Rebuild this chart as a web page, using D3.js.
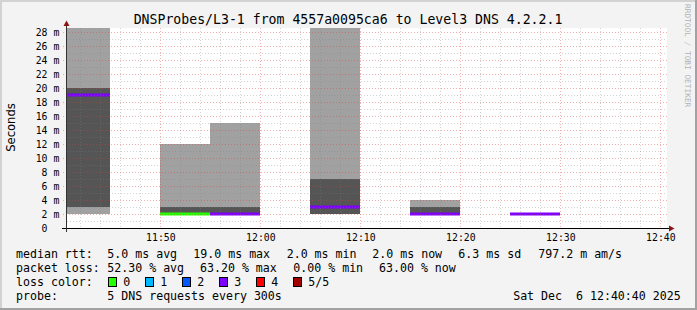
<!DOCTYPE html>
<html><head><meta charset="utf-8">
<script src="https://cdn.jsdelivr.net/npm/d3@7"></script>
<style>
html,body{margin:0;padding:0;background:#f3f3f3;}
svg{display:block;}
text{white-space:pre;}
</style></head>
<body>
<script>
// ---- data ----
const stepStart = ["11:40","11:50","11:55","12:05","12:15","12:25"];
const outerLo  = [2, 2, 2, 2, 2, 2];
const innerLo  = [3, 2, 2, 2, 2, 2];
const innerHi  = [20, 3, 3, 7, 3, 2];
const outerHi  = [60, 12, 15, 60, 4, 2];
const median   = [19, 2, 2, 3, 2, 2];
const loss     = [3, 0, 3, 3, 3, 3];
const lossLabels = ["0","1","2","3","4","5/5"];
const lossColors = ["#26ff00","#00b8ff","#0059ff","#7e00ff","#ff0000","#a10000"];
const yTicks = [0,2,4,6,8,10,12,14,16,18,20,22,24,26,28];
const xTickLabels = ["11:50","12:00","12:10","12:20","12:30","12:40"];
const title = "DNSProbes/L3-1 from 4557a0095ca6 to Level3 DNS 4.2.2.1";
const legendRows = [
  [["median rtt:",16],["5.0 ms avg",107.3],["19.0 ms max",193.3],["2.0 ms min",286.7],["2.0 ms now",372.3],["6.3 ms sd",458.3],["797.2 m am/s",538.3]],
  [["packet loss:",16],["52.30 % avg",107.3],["63.20 % max",200],["0.00 % min",293.3],["63.00 % now",379]],
  [["loss color:",16]],
  [["probe:",16],["5 DNS requests every 300s",107.3]]
];
const dateText = "Sat Dec  6 12:40:40 2025";

// ---- layout ----
const W = 697, H = 310;
const svg = d3.select("body").append("svg").attr("width", W).attr("height", H);
const parse = s => { const [h,m] = s.split(":").map(Number); return new Date(2025,11,6,h,m,0); };
const t0 = new Date(2025,11,6,11,40,40), t1 = new Date(2025,11,6,12,40,40);
const x = d3.scaleTime().domain([t0,t1]).range([67,667]);
const y = d3.scaleLinear().domain([0, 200/7]).range([228, 28]);

// background and border
svg.append("rect").attr("width",W).attr("height",H).attr("fill","#f3f3f3");
svg.append("rect").attr("x",0).attr("y",0).attr("width",W).attr("height",2).attr("fill","#d2d2d2");
svg.append("rect").attr("x",0).attr("y",0).attr("width",2).attr("height",H).attr("fill","#d2d2d2");
svg.append("rect").attr("x",0).attr("y",H-2).attr("width",W).attr("height",2).attr("fill","#a2a2a2");
svg.append("rect").attr("x",W-2).attr("y",0).attr("width",2).attr("height",H).attr("fill","#a2a2a2");

// plot canvas
svg.append("rect").attr("x",67).attr("y",28).attr("width",600).attr("height",200).attr("fill","#ffffff");
svg.append("clipPath").attr("id","pc").append("rect").attr("x",67).attr("y",28).attr("width",600).attr("height",200);
const g = svg.append("g").attr("clip-path","url(#pc)");

const idx = d3.range(stepStart.length);
const bx = i => x(parse(stepStart[i]));
const bw = i => x(new Date(parse(stepStart[i]).getTime()+300000)) - bx(i);

g.selectAll("rect.outer").data(idx.filter(i=>outerHi[i]>outerLo[i])).join("rect")
  .attr("x", i=>Math.round(bx(i))).attr("width", i=>Math.round(bx(i)+bw(i))-Math.round(bx(i)))
  .attr("y", i=>y(outerHi[i])).attr("height", i=>y(outerLo[i])-y(outerHi[i]))
  .attr("fill","#a1a1a1");
g.selectAll("rect.inner").data(idx.filter(i=>innerHi[i]>innerLo[i])).join("rect")
  .attr("x", i=>Math.round(bx(i))).attr("width", i=>Math.round(bx(i)+bw(i))-Math.round(bx(i)))
  .attr("y", i=>y(innerHi[i])).attr("height", i=>y(innerLo[i])-y(innerHi[i]))
  .attr("fill","#555555");
g.selectAll("rect.med").data(idx).join("rect")
  .attr("x", i=>Math.round(bx(i))).attr("width", i=>Math.round(bx(i)+bw(i))-Math.round(bx(i)))
  .attr("y", i=>y(median[i])-1.5).attr("height",3)
  .attr("fill", i=>lossColors[loss[i]]);

// grid
const minorC = "rgba(130,130,130,0.35)", majorC = "rgba(220,60,60,0.4)";
const grid = svg.append("g");
const minorX = d3.timeMinute.every(2).range(t0, t1);
const majorX = d3.timeMinute.every(10).range(t0, new Date(t1.getTime()+1));
grid.selectAll("line.mx").data(minorX.filter(d=>d.getMinutes()%10!==0)).join("line")
  .attr("x1",d=>Math.round(x(d))+0.5).attr("x2",d=>Math.round(x(d))+0.5).attr("y1",28).attr("y2",228)
  .attr("stroke",minorC).attr("stroke-dasharray","1,2");
d3.range(1,29).filter(v=>v%2===1).forEach(v=>{
  grid.append("line").attr("x1",67).attr("x2",667).attr("y1",y(v)+0.5).attr("y2",y(v)+0.5)
    .attr("stroke",minorC).attr("stroke-dasharray","1,2");
});
grid.selectAll("line.Mx").data(majorX).join("line")
  .attr("x1",d=>Math.round(x(d))+0.5).attr("x2",d=>Math.round(x(d))+0.5).attr("y1",28).attr("y2",228)
  .attr("stroke",majorC).attr("stroke-dasharray","1,2");
grid.selectAll("line.My").data(yTicks.filter(v=>v>0)).join("line")
  .attr("x1",63).attr("x2",667).attr("y1",d=>y(d)+0.5).attr("y2",d=>y(d)+0.5)
  .attr("stroke",majorC).attr("stroke-dasharray","1,2");

// axes
svg.append("line").attr("x1",62).attr("x2",670).attr("y1",228.5).attr("y2",228.5).attr("stroke","#000");
svg.append("line").attr("x1",66.5).attr("x2",66.5).attr("y1",232).attr("y2",24).attr("stroke","#333");
svg.append("path").attr("d","M63.5,26L69.5,26L66.5,20.5Z").attr("fill","#8b1414");
svg.append("path").attr("d","M669,225.5L669,231.5L674.5,228.5Z").attr("fill","#8b1414");

// tick labels
const mono = "'DejaVu Sans Mono', monospace";
svg.append("g").selectAll("text").data(yTicks).join("text")
  .attr("x", d=> d===0 ? 59.3-2*5.9 : 59.3).attr("y", d=>y(d)+3.5)
  .attr("text-anchor","end").attr("font-family",mono).attr("font-size","9.8px").attr("fill","#000")
  .text(d=> d===0 ? "0" : d+" m");
const xAxisG = svg.append("g").attr("transform","translate(0,228)");
const xa = d3.axisBottom(x).tickValues(xTickLabels.map(parse)).tickSize(0).tickFormat(d3.timeFormat("%H:%M"));
xAxisG.call(xa);
xAxisG.select(".domain").remove();
xAxisG.selectAll("text").attr("font-family",mono).attr("font-size","9.8px").attr("fill","#000").attr("dy",null).attr("y",12.5);

// title
svg.append("text").attr("x",348).attr("y",24).attr("text-anchor","middle")
  .attr("font-family",mono).attr("font-size","13.2px").attr("fill","#000").text(title);
// y label
svg.append("text").attr("transform","translate(14.5,127.5) rotate(-90)").attr("text-anchor","middle")
  .attr("font-family","'DejaVu Sans', sans-serif").attr("font-size","11.6px").attr("fill","#000").text("Seconds");
// watermark
svg.append("text").attr("transform","translate(684.5,4) rotate(90)").attr("text-anchor","start")
  .attr("font-family",mono).attr("font-size","7.8px").attr("fill","#b4b4b4").text("RRDTOOL / TOBI OETIKER");

// legend
const lg = svg.append("g").attr("font-family",mono).attr("font-size","11.6px").attr("fill","#000");
legendRows.forEach((row,r)=>{
  row.forEach(([t,px])=>{
    lg.append("text").attr("x",px).attr("y",258+14*r).text(t);
  });
});
lossLabels.forEach((l,i)=>{
  const bxp = 108.5 + 37*i;
  lg.append("rect").attr("x",bxp).attr("y",277.5).attr("width",8).attr("height",9)
    .attr("fill",lossColors[i]).attr("stroke","#000").attr("stroke-width",1);
  lg.append("text").attr("x",123.3+37*i).attr("y",286).text(l);
});
lg.append("text").attr("x",680.7).attr("y",300).attr("text-anchor","end").text(dateText);
</script>
</body></html>
